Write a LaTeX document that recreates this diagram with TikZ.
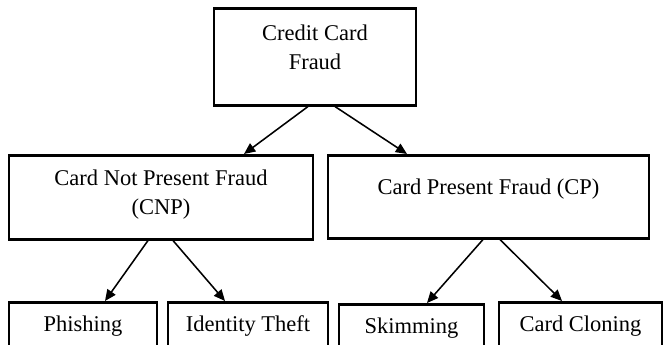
\documentclass[tikz,border=0pt]{standalone}
\usepackage{fontspec}
\setmainfont{Liberation Serif}
\usepackage{tikz}
\usetikzlibrary{positioning, arrows.meta}

\begin{document}
\begin{tikzpicture}[
        fraudbox/.style={rectangle, draw, line width=1.8pt, anchor=north, inner ysep=0pt, align=center, font=\fontsize{16}{20.5}\selectfont},
        link/.style={-{Triangle[length=8pt, width=7pt]}, line width=1.1pt},
    ]
        \useasboundingbox (0,0) rectangle (16.575,-8.6);
        % Boxes
        \node[fraudbox, minimum width=5.05cm, text height=1.525cm, text depth=0.9cm] (top) at (7.875,-0.175) {Credit Card\\Fraud};
        \node[fraudbox, minimum width=7.6cm, text height=1.475cm, text depth=0.625cm] (cnp) at (4.025,-3.85) {Card Not Present Fraud\\(CNP)};
        \node[fraudbox, minimum width=8.025cm, text height=0.975cm, text depth=1.1cm] (cp) at (12.2125,-3.85) {Card Present Fraud (CP)};
        \node[fraudbox, minimum width=3.7cm, text height=0.725cm, text depth=0.5cm] (phish) at (2.075,-7.525) {Phishing};
        \node[fraudbox, minimum width=4cm, text height=0.725cm, text depth=0.5cm] (ident) at (6.2,-7.525) {Identity Theft};
        \node[fraudbox, minimum width=3.625cm, text height=0.725cm, text depth=0.45cm] (skim) at (10.2875,-7.575) {Skimming};
        \node[fraudbox, minimum width=4.075cm, text height=0.725cm, text depth=0.5cm] (clone) at (14.5125,-7.525) {Card Cloning};

        % Links
        \draw[link] ([xshift=-0.175cm]top.south) -- ([xshift=2.075cm]cnp.north);
        \draw[link] ([xshift=0.5cm]top.south) -- ([xshift=-2.0375cm]cp.north);
        \draw[link] ([xshift=-0.325cm]cnp.south) -- ([xshift=0.55cm]phish.north);
        \draw[link] ([xshift=0.3cm]cnp.south) -- ([xshift=-0.575cm]ident.north);
        \draw[link] ([xshift=-0.1375cm]cp.south) -- ([xshift=0.3875cm]skim.north);
        \draw[link] ([xshift=0.2875cm]cp.south) -- ([xshift=-0.4625cm]clone.north);
\end{tikzpicture}
\end{document}
